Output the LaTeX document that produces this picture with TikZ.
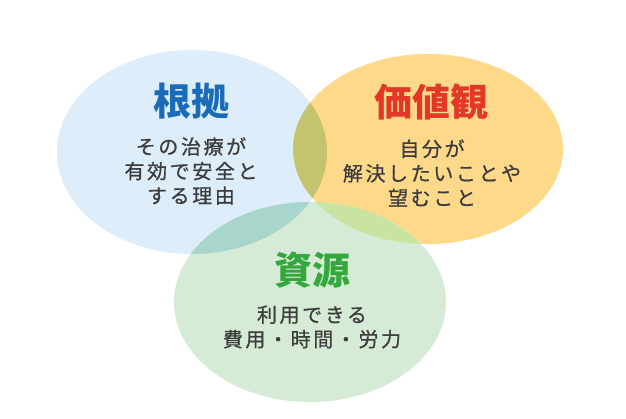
\documentclass[tikz,border=0pt]{standalone}
\usepackage{fontspec}
\newfontfamily\cjk{Noto Sans CJK JP}
\newfontfamily\cjkbody[LetterSpace=13,FakeBold=0.7]{Noto Sans CJK JP}
\definecolor{cblue}{RGB}{221,238,250}
\definecolor{cyellow}{RGB}{254,217,138}
\definecolor{cgreen}{RGB}{214,235,214}
\definecolor{cbluey}{RGB}{196,196,110}
\definecolor{cblueg}{RGB}{168,214,204}
\definecolor{cyellowg}{RGB}{200,228,160}
\definecolor{tblue}{RGB}{26,108,186}
\definecolor{tred}{RGB}{226,56,40}
\definecolor{tgreen}{RGB}{52,168,60}
\definecolor{tbody}{RGB}{60,60,60}
\tikzset{
  title/.style={font=\cjk\fontsize{38}{40}\selectfont\bfseries, inner sep=0pt},
  body/.style={font=\cjkbody\fontsize{20}{24.5}\selectfont, text=tbody, align=center, inner sep=0pt}
}
\begin{document}
\begin{tikzpicture}[x=1pt,y=-1pt]
\useasboundingbox (0,0) rectangle (626,418);
\fill[white] (0,0) rectangle (626,418);
\def\blueE{(192,152) ellipse [x radius=135, y radius=102]}
\def\yellowE{(428,149) ellipse [x radius=135, y radius=95]}
\def\greenE{(310,302) ellipse [x radius=136, y radius=100]}
\fill[cblue] \blueE;
\fill[cyellow] \yellowE;
\fill[cgreen] \greenE;
\begin{scope}
  \clip \blueE;
  \fill[cbluey] \yellowE;
  \fill[cblueg] \greenE;
\end{scope}
\begin{scope}
  \clip \yellowE;
  \fill[cyellowg] \greenE;
\end{scope}
\node[title, text=tblue] (t1) at (191,101) {根拠};
\node[title, text=tred] (t2) at (431,102) {価値観};
\node[title, text=tgreen] (t3) at (312,270) {資源};
\node[body] (b1) at (191,171) {その治療が\\有効で安全と\\する理由};
\node[body] (b2) at (432,173) {自分が\\解決したいことや\\望むこと};
\node[body] (b3) at (312,327) {利用できる\\費用・時間・労力};
\end{tikzpicture}
\end{document}
